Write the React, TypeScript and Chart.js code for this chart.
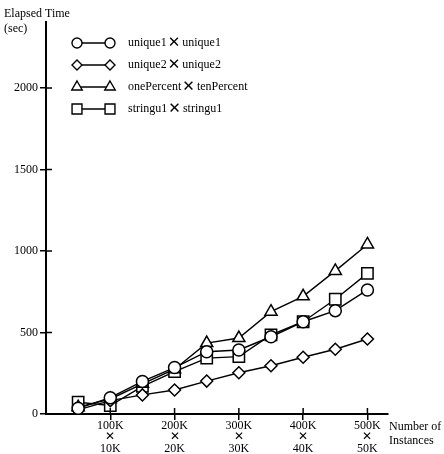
import React, { useEffect, useRef } from "react";
import { Chart, registerables } from "chart.js";

Chart.register(...registerables);

const instancesK = [50, 100, 150, 200, 250, 300, 350, 400, 450, 500];
const unique1 = [35, 100, 200, 285, 382, 393, 474, 566, 634, 761];
const unique2 = [25, 82, 117, 147, 202, 253, 296, 348, 397, 460];
const onePercent = [42, 92, 185, 275, 435, 466, 628, 722, 878, 1040];
const stringu1 = [72, 52, 170, 260, 343, 352, 485, 566, 704, 863];

const seriesLeft = ["unique1", "unique2", "onePercent", "stringu1"];
const seriesRight = ["unique1", "unique2", "tenPercent", "stringu1"];
const CROSS = "\u2715";
const pointStyles = ["circle", "rectRot", "triangle", "rect"];
const pointRadii = [6, 6, 7, 8];

const xTickValuesK = [100, 200, 300, 400, 500];
const xTickTop = ["100K", "200K", "300K", "400K", "500K"];
const xTickBottom = ["10K", "20K", "30K", "40K", "50K"];
const yTickValues = [0, 500, 1000, 1500, 2000];

const yTitle = ["Elapsed Time", "(sec)"];
const xTitle = ["Number of", "Instances"];

const FONT = "'Liberation Serif', 'DejaVu Serif', serif";

function drawMarker(ctx: CanvasRenderingContext2D, style: string, x: number, y: number, r: number) {
  ctx.beginPath();
  if (style === "circle") {
    ctx.arc(x, y, r, 0, Math.PI * 2);
  } else if (style === "rectRot") {
    ctx.moveTo(x, y - r);
    ctx.lineTo(x + r, y);
    ctx.lineTo(x, y + r);
    ctx.lineTo(x - r, y);
    ctx.closePath();
  } else if (style === "triangle") {
    ctx.moveTo(x, y - r);
    ctx.lineTo(x + r * 0.87, y + r * 0.5);
    ctx.lineTo(x - r * 0.87, y + r * 0.5);
    ctx.closePath();
  } else {
    const s = r * Math.SQRT1_2;
    ctx.rect(x - s, y - s, s * 2, s * 2);
  }
  ctx.fillStyle = "#fff";
  ctx.fill();
  ctx.stroke();
}

const decorPlugin = {
  id: "decor",
  afterDraw(chart: any) {
    const ctx: CanvasRenderingContext2D = chart.ctx;
    const xs = chart.scales.x;
    const ys = chart.scales.y;
    const area = chart.chartArea;
    ctx.save();
    ctx.strokeStyle = "#000";
    ctx.lineWidth = 1.5;
    xTickValuesK.forEach((v) => {
      const px = xs.getPixelForValue(v);
      ctx.beginPath();
      ctx.moveTo(px, area.bottom);
      ctx.lineTo(px, area.bottom - 6);
      ctx.stroke();
    });
    yTickValues.forEach((v) => {
      const py = ys.getPixelForValue(v);
      ctx.beginPath();
      ctx.moveTo(area.left, py);
      ctx.lineTo(area.left + 6, py);
      ctx.stroke();
    });
    ctx.fillStyle = "#000";
    ctx.font = `12px ${FONT}`;
    ctx.textAlign = "left";
    ctx.textBaseline = "middle";
    ctx.fillText(yTitle[0], 4, 14);
    ctx.fillText(yTitle[1], 4, 29);
    ctx.fillText(xTitle[0], 389, 427);
    ctx.fillText(xTitle[1], 389, 441);
    const rowY = [43, 65, 87, 109];
    chart.data.datasets.forEach((ds: any, i: number) => {
      const y = rowY[i];
      ctx.lineWidth = 1.4;
      ctx.beginPath();
      ctx.moveTo(77, y);
      ctx.lineTo(110, y);
      ctx.stroke();
      drawMarker(ctx, pointStyles[i], 77, y, pointRadii[i] - 1);
      drawMarker(ctx, pointStyles[i], 110, y, pointRadii[i] - 1);
      ctx.fillStyle = "#000";
      ctx.font = `12px ${FONT}`;
      let x = 128;
      ctx.fillText(seriesLeft[i], x, y);
      x += ctx.measureText(seriesLeft[i]).width + 1;
      ctx.font = `15px 'DejaVu Sans', sans-serif`;
      ctx.fillText(CROSS, x, y);
      x += ctx.measureText(CROSS).width + 2;
      ctx.font = `12px ${FONT}`;
      ctx.fillText(seriesRight[i], x, y);
    });
    ctx.restore();
  },
};

export default function App() {
  const ref = useRef<HTMLCanvasElement | null>(null);
  useEffect(() => {
    document.body.style.margin = "0";
    const series = [unique1, unique2, onePercent, stringu1];
    const chart = new Chart(ref.current as HTMLCanvasElement, {
      type: "line",
      data: {
        datasets: series.map((vals, i) => ({
          label: `${seriesLeft[i]} ${CROSS} ${seriesRight[i]}`,
          data: instancesK.map((x, j) => ({ x, y: vals[j] })),
          borderColor: "#000",
          borderWidth: 1.4,
          backgroundColor: "#fff",
          pointStyle: pointStyles[i] as any,
          pointRadius: pointRadii[i],
          pointBorderWidth: 1.5,
          pointBorderColor: "#000",
          pointBackgroundColor: "#fff",
          tension: 0,
        })),
      },
      options: {
        responsive: false,
        animation: false,
        layout: { padding: { left: 0, top: 22, right: 56, bottom: 0 } },
        plugins: { legend: { display: false }, tooltip: { enabled: false } },
        scales: {
          x: {
            type: "linear",
            min: 0,
            max: 532,
            afterBuildTicks: (s: any) => {
              s.ticks = xTickValuesK.map((v) => ({ value: v }));
            },
            afterFit: (s: any) => {
              s.height = 40;
            },
            border: { display: true, color: "#000", width: 2 },
            grid: { drawOnChartArea: false, drawTicks: true, tickLength: 6, color: "#000", lineWidth: 1.5 },
            ticks: {
              color: "#000",
              padding: 0,
              maxRotation: 0,
              autoSkip: false,
              font: { family: FONT, size: 12, lineHeight: 0.95 },
              callback: (v: any) => {
                const i = xTickValuesK.indexOf(Number(v));
                return i >= 0 ? [xTickTop[i], CROSS, xTickBottom[i]] : "";
              },
            },
          },
          y: {
            type: "linear",
            min: 0,
            max: 2405,
            afterBuildTicks: (s: any) => {
              s.ticks = yTickValues.map((v) => ({ value: v }));
            },
            afterFit: (s: any) => {
              s.width = 46;
            },
            border: { display: true, color: "#000", width: 2 },
            grid: { drawOnChartArea: false, drawTicks: true, tickLength: 6, color: "#000", lineWidth: 1.5 },
            ticks: {
              color: "#000",
              padding: 2,
              font: { family: FONT, size: 12 },
              callback: (v: any) => String(v),
            },
          },
        },
      },
      plugins: [decorPlugin],
    });
    return () => chart.destroy();
  }, []);
  return (
    <div style={{ width: 444, height: 454 }}>
      <canvas ref={ref} width={444} height={454} />
    </div>
  );
}
